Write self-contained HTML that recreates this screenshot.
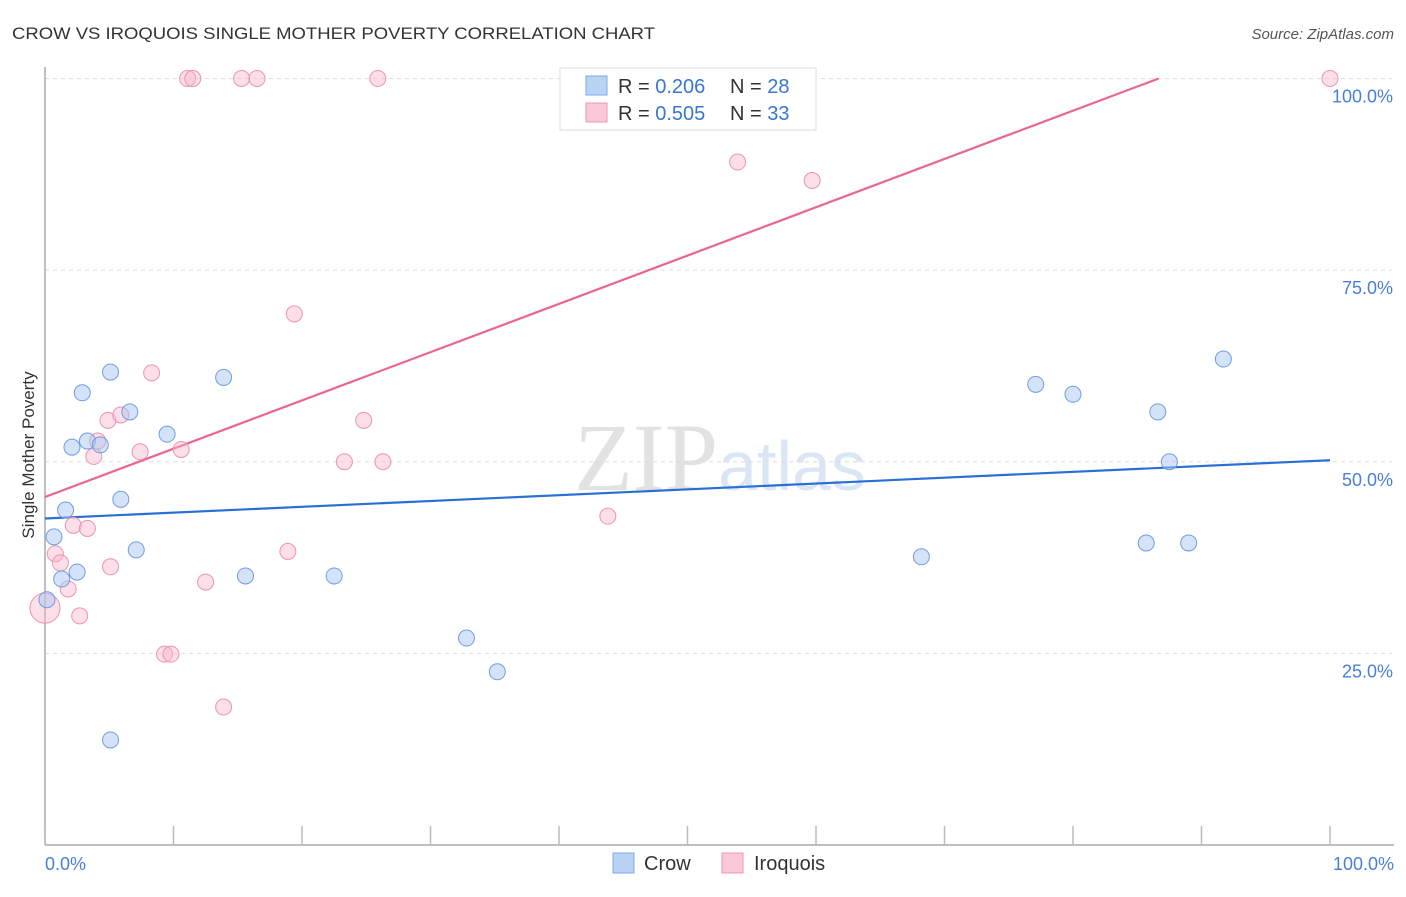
<!DOCTYPE html>
<html><head><meta charset="utf-8"><style>
body{margin:0;background:#fff;font-family:"Liberation Sans",sans-serif;}
svg text{font-family:"Liberation Sans",sans-serif;}
</style></head><body>
<svg id="chart" width="1406" height="892" viewBox="0 0 1406 892">
<text x="12" y="39" font-size="17" fill="#333" textLength="643" lengthAdjust="spacingAndGlyphs">CROW VS IROQUOIS SINGLE MOTHER POVERTY CORRELATION CHART</text>
<text x="1394" y="39" font-size="15" fill="#555" font-style="italic" text-anchor="end">Source: ZipAtlas.com</text>
<text x="720" y="490" font-size="96" fill="#e6e6e6" text-anchor="middle" font-family="Liberation Serif"><tspan font-family="Liberation Serif" fill="#e2e2e2">ZIP</tspan><tspan font-family="Liberation Sans" font-size="70" fill="#dbe6f5">atlas</tspan></text>
<g id="grid"></g>
<g id="axes"></g>
<g id="lines"></g>
<g id="points"></g>
<text transform="translate(34,455) rotate(-90)" font-size="17" fill="#333" text-anchor="middle">Single Mother Poverty</text>
<text x="45" y="870" font-size="18" fill="#4a7fd8">0.0%</text>
<text x="1394" y="870" font-size="18" fill="#4a7fd8" text-anchor="end">100.0%</text>
<g>
<rect x="560" y="68" width="256" height="62" fill="#fff" stroke="#ddd"/>
<rect x="586" y="76" width="21" height="19" fill="#b9d3f5" stroke="#7fa9e6"/>
<rect x="586" y="103" width="21" height="19" fill="#fac8d8" stroke="#ee96b3"/>
<text x="618" y="93" font-size="20" fill="#333">R = <tspan fill="#3a75d4">0.206</tspan></text>
<text x="730" y="93" font-size="20" fill="#333">N = <tspan fill="#3a75d4">28</tspan></text>
<text x="618" y="120" font-size="20" fill="#333">R = <tspan fill="#3a75d4">0.505</tspan></text>
<text x="730" y="120" font-size="20" fill="#333">N = <tspan fill="#3a75d4">33</tspan></text>
</g>
<g>
<rect x="613" y="853" width="21" height="20" fill="#b9d3f5" stroke="#7fa9e6"/>
<text x="644" y="870" font-size="20" fill="#333">Crow</text>
<rect x="722" y="853" width="21" height="20" fill="#fac8d8" stroke="#ee96b3"/>
<text x="754" y="870" font-size="20" fill="#333">Iroquois</text>
</g>
</svg>
<script>
const yTicks=[25,50,75,100];
const yTickLabels=["25.0%","50.0%","75.0%","100.0%"];
const xTicks=[0,10,20,30,40,50,60,70,80,90,100];
const crowX=[0.15,0.7,1.3,1.6,2.1,2.5,2.9,3.3,4.3,5.1,5.1,5.9,6.6,7.1,9.5,13.9,15.6,22.5,32.8,35.2,68.2,77.1,80.0,85.7,86.6,87.5,89.0,91.7];
const crowY=[32.0,40.2,34.7,43.7,51.9,35.6,59.0,52.7,52.2,61.7,13.7,45.1,56.5,38.5,53.6,61.0,35.1,35.1,27.0,22.6,37.6,60.1,58.8,39.4,56.5,50.0,39.4,63.4];
const iroX=[0,0.8,1.2,1.8,2.2,2.7,3.3,3.8,4.1,4.9,5.1,5.9,7.4,8.3,9.3,9.8,10.6,11.1,11.5,12.5,13.9,15.3,16.5,18.9,19.4,23.3,24.8,25.9,26.3,43.8,53.9,59.7,100];
const iroY=[30.9,38.0,36.8,33.4,41.7,29.9,41.3,50.7,52.7,55.4,36.3,56.1,51.3,61.6,24.9,24.9,51.6,100,100,34.3,18.0,100,100,38.3,69.3,50.0,55.4,100,50.0,42.9,89.1,86.7,100];
const crowTrend=[42.6,50.2];
const iroTrend=[45.4,108.4];
const NS="http://www.w3.org/2000/svg";
const sx=v=>45+v*12.85;
const sy=v=>845-v*7.665;
function mk(tag,attrs,parent){const e=document.createElementNS(NS,tag);for(const k in attrs)e.setAttribute(k,attrs[k]);document.getElementById(parent).appendChild(e);return e;}
yTicks.forEach((t,i)=>{
 const g=mk('line',{x1:45,x2:1392,y1:sy(t),y2:sy(t),stroke:'#ddd','stroke-dasharray':'4,4'},'grid');
 
 
 const tx=mk('text',{x:1393,y:sy(t)+24,'font-size':18,fill:'#4a7fd8','text-anchor':'end'},'grid');
 tx.textContent=yTickLabels[i];
 
 
});
const xa=mk('line',{x1:45,x2:1394,y1:845,y2:845,stroke:'#aaa','stroke-width':1.5},'axes');


const ya=mk('line',{x1:45,x2:45,y1:67,y2:845,stroke:'#aaa','stroke-width':1.5},'axes');


xTicks.forEach(t=>{
 const l=mk('line',{x1:sx(t),x2:sx(t),y1:826,y2:845,stroke:'#bbb','stroke-width':1.5},'axes');
 
 
});
const cl=mk('line',{x1:sx(0),y1:sy(crowTrend[0]),x2:sx(100),y2:sy(crowTrend[1]),stroke:'#2b6fd6','stroke-width':2.2},'lines');


const xEnd=(100-iroTrend[0])/(iroTrend[1]-iroTrend[0])*100;
const il=mk('line',{x1:sx(0),y1:sy(iroTrend[0]),x2:sx(Math.min(100,xEnd)),y2:sy(Math.min(100,iroTrend[1])),stroke:'#e8668f','stroke-width':2.2},'lines');


iroX.forEach((x,i)=>{
 const r=(i===0)?15:8;
 const c=mk('circle',{cx:sx(x),cy:sy(iroY[i]),r:r,fill:'rgba(248,184,205,0.45)',stroke:'#ec93b1','stroke-width':1},'points');
 
 
});
crowX.forEach((x,i)=>{
 const c=mk('circle',{cx:sx(x),cy:sy(crowY[i]),r:8,fill:'rgba(170,200,242,0.5)',stroke:'#6f9ee0','stroke-width':1},'points');
 
 
});
</script>
</body></html>
